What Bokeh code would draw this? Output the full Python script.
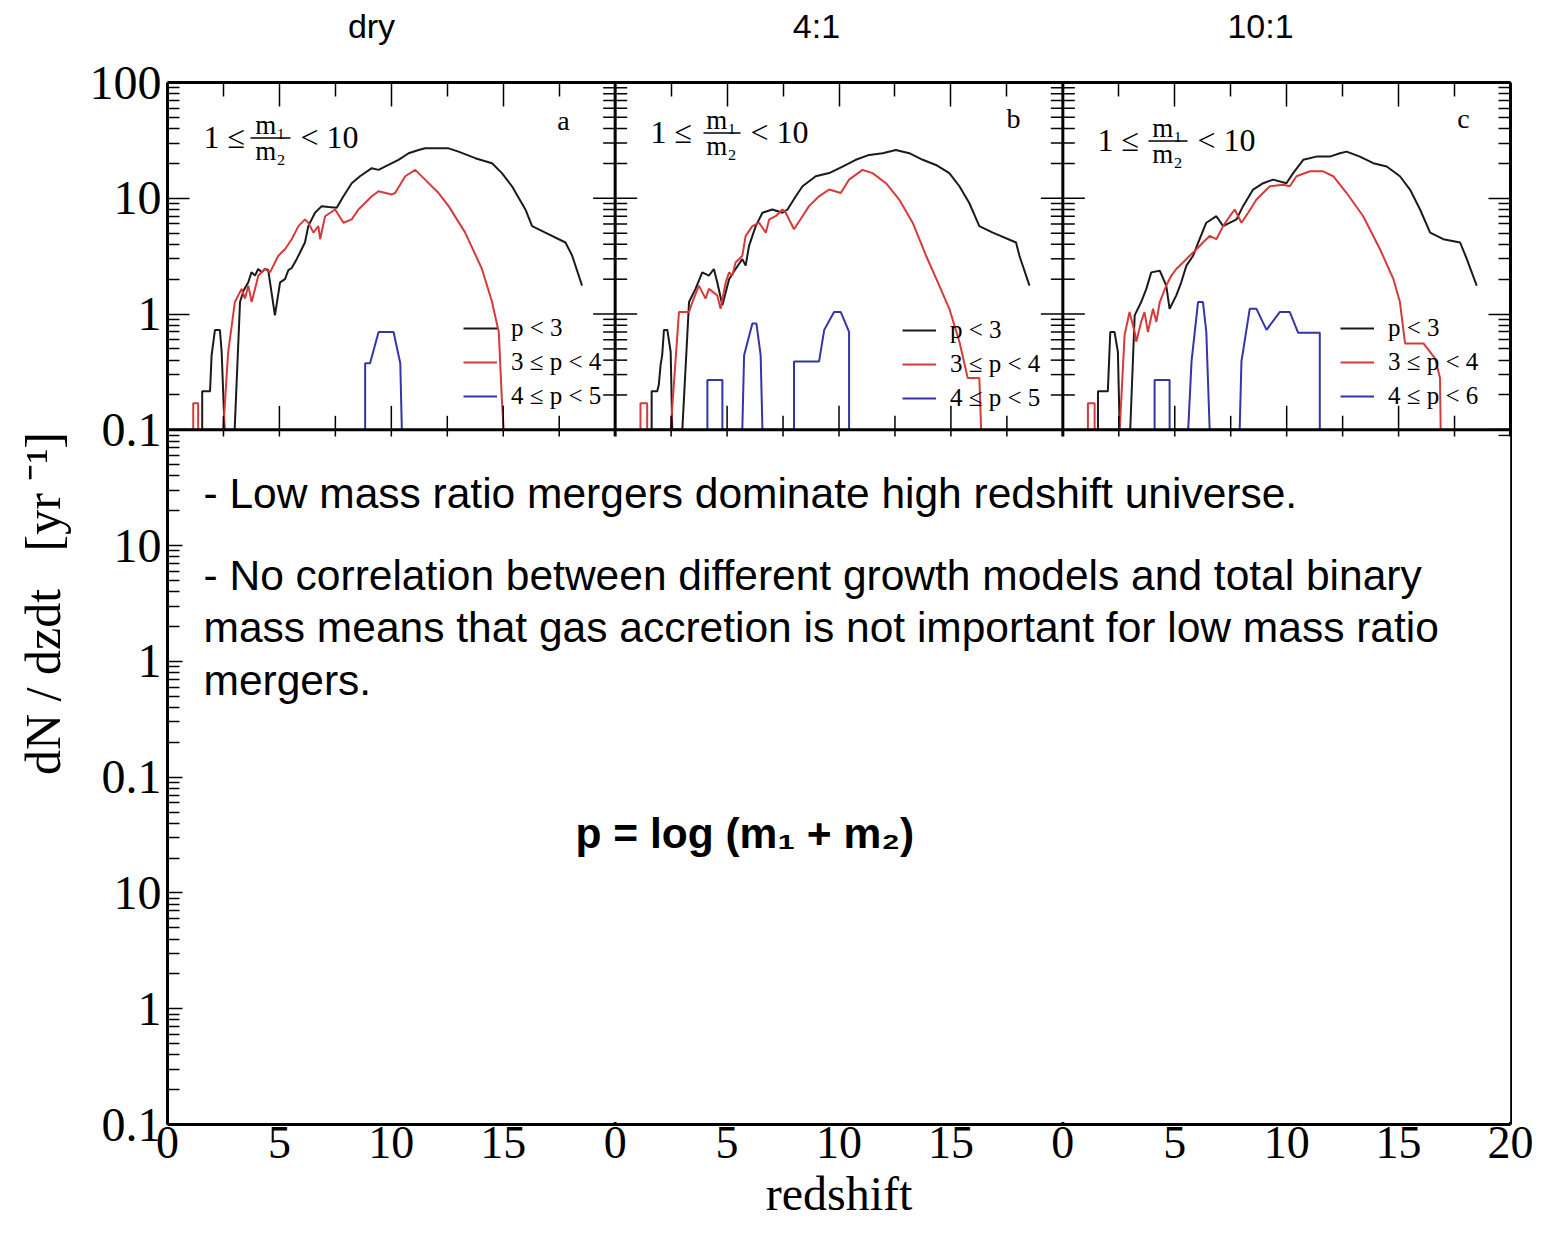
import math
from bokeh.plotting import figure
from bokeh.models import (Range1d, LinearAxis, LogAxis, FixedTicker, Span, BoxAnnotation,
                          Label, Legend, LegendItem)
from bokeh.core.properties import value
from bokeh.embed import file_html
from bokeh.resources import INLINE

# ---------------- data (redshift z, dN/dzdt) ; 0.1 = floor of the panel ----------------
panel_titles = ["dry", "4:1", "10:1"]
panel_letters = ["a", "b", "c"]
x_tick_labels = ["0", "5", "10", "15", "0", "5", "10", "15", "0", "5", "10", "15", "20"]
y_tick_labels = ["0.1", "1", "10", "0.1", "1", "10", "0.1", "1", "10", "100"]
legend_a = ["p < 3", "3 ≤ p < 4", "4 ≤ p < 5"]
legend_b = ["p < 3", "3 ≤ p < 4", "4 ≤ p < 5"]
legend_c = ["p < 3", "3 ≤ p < 4", "4 ≤ p < 6"]

# panel a (dry)
a_black_z = [1.55, 1.55, 1.9, 1.97, 2.12, 2.34, 2.42, 2.55, 3.0, 3.24, 3.4, 3.61, 3.75, 3.91, 4.05, 4.21, 4.35, 4.5,
             4.8, 5.03, 5.25, 5.4, 5.55, 5.77, 5.92, 6.14, 6.29, 6.59, 6.89, 7.2, 7.56, 7.86, 8.23, 8.6, 9.13, 9.43,
             9.87, 10.32, 10.77, 11.22, 11.51, 12.0, 12.56, 13.0, 13.75, 14.5, 14.94, 15.39, 15.99, 16.29, 16.88,
             17.78, 18.08, 18.52]
a_black = [0.1, 0.215, 0.215, 0.44, 0.73, 0.73, 0.47, 0.1, 0.1, 1.27, 1.6, 1.88, 2.3, 2.15, 2.45, 2.3, 2.45, 2.4,
           0.975, 1.88, 2.0, 2.4, 2.5, 2.98, 3.4, 4.15, 5.75, 7.5, 8.55, 8.4, 8.27, 10.4, 13.5, 15.5, 18.2, 17.6,
           19.4, 21.5, 24.5, 26.1, 27.0, 27.0, 27.0, 25.3, 22.2, 20.1, 16.5, 12.7, 8.0, 5.75, 5.05, 4.15, 3.19, 1.76]
a_red_z = [1.15, 1.15, 1.37, 1.37, 2.49, 2.71, 3.01, 3.31, 3.46, 3.61, 3.76, 4.06, 4.35, 4.58, 4.95, 5.25, 5.55,
           5.85, 6.14, 6.29, 6.52, 6.74, 6.82, 7.04, 7.49, 7.86, 8.23, 8.53, 9.13, 9.43, 10.02, 10.17, 10.62, 11.07,
           11.51, 12.11, 12.56, 13.3, 14.05, 14.5, 14.8, 14.94, 15.02]
a_red = [0.1, 0.17, 0.17, 0.1, 0.1, 0.47, 1.27, 1.65, 1.36, 1.76, 1.27, 2.15, 2.45, 2.29, 3.19, 3.63, 4.43, 5.75,
         6.57, 6.15, 5.05, 5.75, 4.43, 7.0, 8.0, 6.15, 6.57, 8.0, 10.4, 11.5, 10.8, 11.1, 15.5, 17.6, 14.5, 11.1,
         8.55, 5.05, 2.45, 1.27, 0.70, 0.18, 0.1]
a_blue_z = [8.83, 8.83, 9.05, 9.43, 10.1, 10.4, 10.47]
a_blue = [0.1, 0.376, 0.376, 0.70, 0.70, 0.376, 0.1]

# panel b (4:1)
b_black_z = [1.63, 1.63, 1.88, 1.95, 2.03, 2.1, 2.18, 2.33, 2.48, 2.55, 3.0, 3.3, 3.59, 3.89, 4.19, 4.41, 4.56,
             4.79, 5.09, 5.38, 5.68, 5.83, 5.98, 6.28, 6.58, 7.02, 7.47, 7.7, 8.07, 8.37, 8.96, 9.56, 10.16, 10.75,
             11.35, 11.95, 12.54, 13.14, 13.74, 14.33, 14.93, 15.38, 15.82, 16.27, 16.87, 17.91, 18.06, 18.51]
b_black = [0.1, 0.215, 0.215, 0.245, 0.364, 0.44, 0.73, 0.73, 0.47, 0.1, 0.1, 1.27, 1.65, 2.29, 2.15, 2.45, 1.88,
           1.19, 2.0, 2.45, 2.98, 2.62, 3.88, 5.75, 7.5, 8.0, 7.5, 8.0, 10.4, 12.7, 15.5, 16.5, 18.8, 21.5, 23.7,
           24.5, 26.1, 24.5, 21.5, 19.4, 16.5, 12.7, 9.1, 5.75, 5.05, 4.15, 3.19, 1.76]
b_red_z = [1.13, 1.13, 1.43, 1.43, 2.48, 2.85, 3.3, 3.45, 3.74, 4.04, 4.19, 4.56, 4.71, 4.94, 5.09, 5.23, 5.38,
           5.68, 5.83, 6.13, 6.43, 6.73, 6.88, 7.17, 7.47, 7.62, 7.99, 8.37, 8.66, 9.11, 9.56, 10.08, 10.45, 11.05,
           11.5, 12.1, 12.69, 13.29, 13.89, 14.48, 14.93, 15.38, 15.75, 16.27, 16.35]
b_red = [0.1, 0.17, 0.17, 0.1, 0.1, 1.04, 1.04, 1.27, 1.76, 1.36, 1.65, 1.45, 1.11, 1.88, 2.29, 2.15, 2.79, 3.19,
         4.73, 5.75, 6.15, 5.05, 6.57, 7.0, 8.0, 7.5, 5.4, 7.0, 8.55, 10.4, 11.9, 11.1, 14.5, 17.6, 16.5, 13.5,
         9.75, 6.15, 3.19, 1.76, 1.11, 0.577, 0.28, 0.28, 0.1]
b_blue_z = [4.12, 4.12, 4.79, 4.79, 5.68, 5.76, 6.13, 6.31, 6.5, 6.58, 7.99, 7.99, 9.11, 9.34, 9.78, 10.08, 10.45,
            10.45]
b_blue = [0.1, 0.27, 0.27, 0.1, 0.1, 0.44, 0.83, 0.83, 0.44, 0.1, 0.1, 0.39, 0.39, 0.73, 1.04, 1.04, 0.70, 0.1]

# panel c (10:1)
c_black_z = [1.57, 1.57, 2.01, 2.12, 2.31, 2.46, 2.54, 3.01, 3.21, 3.5, 3.73, 3.95, 4.33, 4.62, 4.77, 5.07, 5.29,
             5.52, 5.82, 6.11, 6.41, 6.86, 7.16, 7.76, 8.05, 8.5, 8.95, 9.4, 9.99, 10.29, 10.74, 11.33, 11.93, 12.38,
             12.68, 13.27, 13.87, 14.47, 15.06, 15.51, 15.96, 16.41, 17.0, 17.75, 18.05, 18.49]
c_black = [0.1, 0.215, 0.215, 0.70, 0.70, 0.47, 0.1, 0.1, 0.975, 1.27, 1.65, 2.29, 2.37, 1.76, 1.11, 1.45, 1.88,
           2.62, 3.19, 4.43, 6.15, 7.0, 5.75, 6.57, 8.55, 11.9, 13.5, 14.5, 13.5, 16.5, 21.5, 22.9, 22.9, 24.5, 25.3,
           22.9, 20.1, 18.8, 15.5, 11.9, 8.0, 5.05, 4.43, 4.15, 2.98, 1.76]
c_red_z = [1.12, 1.12, 1.42, 1.42, 2.54, 2.76, 2.98, 3.21, 3.28, 3.5, 3.65, 3.8, 4.03, 4.18, 4.33, 4.62, 4.85, 5.07,
           5.37, 5.67, 5.97, 6.26, 6.56, 6.86, 7.16, 7.46, 7.68, 7.98, 8.28, 8.65, 9.25, 9.84, 10.14, 10.44, 11.04,
           11.63, 12.08, 12.68, 13.42, 14.17, 14.77, 15.06, 15.29, 16.11, 16.63, 16.85, 16.88]
c_red = [0.1, 0.17, 0.17, 0.1, 0.1, 0.66, 1.04, 0.70, 0.577, 0.855, 1.04, 0.70, 1.11, 0.855, 1.27, 1.76, 2.15, 2.45,
         2.79, 3.19, 3.63, 4.15, 4.73, 4.43, 5.75, 7.0, 8.0, 6.15, 7.5, 9.75, 12.7, 13.1, 12.7, 15.5, 17.1, 17.1,
         15.5, 11.1, 7.0, 3.63, 2.0, 1.27, 0.557, 0.557, 0.415, 0.28, 0.1]
c_blue_z = [4.1, 4.1, 4.77, 4.77, 5.6, 5.75, 6.04, 6.26, 6.41, 6.56, 7.9, 7.98, 8.35, 8.65, 9.1, 9.69, 10.14, 10.51,
            11.48, 11.48]
c_blue = [0.1, 0.27, 0.27, 0.1, 0.1, 0.39, 1.27, 1.27, 0.70, 0.1, 0.1, 0.39, 1.11, 1.11, 0.73, 1.04, 1.04, 0.69,
          0.69, 0.1]

BLACK, RED, BLUE = "#1a1a1a", "#d63a3a", "#3535a6"
SERIF, SANS = "Liberation Serif", "Liberation Sans"

# ---------------- geometry helpers (annotation placement only) ----------------
W, H = 1543, 1236
X0, X1, Y0, Y1 = 167, 1510, 82, 1124


def xd(px):
    return (px - X0) / (X1 - X0) * 60.0


def yd(py):
    return 10 ** (2 - (py - Y0) / (Y1 - Y0) * 9.0)


p = figure(width=W, height=H, x_range=Range1d(0, 60), y_range=Range1d(1e-7, 100), y_axis_type="log",
           output_backend="svg", toolbar_location=None, title=None,
           min_border_left=X0, min_border_right=W - X1, min_border_top=Y0, min_border_bottom=H - Y1)
p.extra_x_ranges = {"b": Range1d(-20, 40), "c": Range1d(-40, 20)}
p.xgrid.visible = False
p.ygrid.visible = False
p.outline_line_color = None
p.background_fill_color = "white"
p.border_fill_color = "white"

# ---------------- curves ----------------
ra = [p.line(a_black_z, a_black, line_color=BLACK, line_width=2),
      p.line(a_red_z, a_red, line_color=RED, line_width=2),
      p.line(a_blue_z, a_blue, line_color=BLUE, line_width=2)]
rb = [p.line(b_black_z, b_black, line_color=BLACK, line_width=2, x_range_name="b"),
      p.line(b_red_z, b_red, line_color=RED, line_width=2, x_range_name="b"),
      p.line(b_blue_z, b_blue, line_color=BLUE, line_width=2, x_range_name="b")]
rc = [p.line(c_black_z, c_black, line_color=BLACK, line_width=2, x_range_name="c"),
      p.line(c_red_z, c_red, line_color=RED, line_width=2, x_range_name="c"),
      p.line(c_blue_z, c_blue, line_color=BLUE, line_width=2, x_range_name="c")]

# ---------------- axes ----------------
decades = [10.0 ** k for k in range(-7, 3)]
minors = [m * 10.0 ** k for k in range(-7, 2) for m in range(2, 10)]
ax_common = dict(axis_line_width=3, axis_line_color="black", major_tick_line_width=1.5,
                 minor_tick_line_width=1.5, major_tick_line_color="black", minor_tick_line_color="black")

left = p.yaxis[0]
left.ticker = FixedTicker(ticks=decades, minor_ticks=minors)
left.major_label_overrides = dict(zip(decades, y_tick_labels))
left.major_label_text_font = SERIF
left.major_label_text_font_size = "48px"
left.major_label_text_color = "black"
left.major_label_standoff = 6
for k, v in ax_common.items():
    setattr(left, k, v)
left.major_tick_in, left.major_tick_out, left.minor_tick_in, left.minor_tick_out = 22, 0, 12, 0
left.axis_label = "dN / dzdt\u00a0\u00a0\u00a0[yr\u00a0⁻¹]"
left.axis_label_text_font = SERIF
left.axis_label_text_font_style = "normal"
left.axis_label_text_font_size = "50px"
left.axis_label_text_color = "black"
left.axis_label_standoff = 16

# unlabelled mirror axes (right and top)
right = LogAxis(ticker=FixedTicker(ticks=decades, minor_ticks=minors),
                major_label_overrides={d: " " for d in decades},
                major_label_text_font_size="6px", major_label_text_alpha=0, major_label_standoff=0,
                major_tick_in=22, major_tick_out=0, minor_tick_in=12, minor_tick_out=0, **ax_common)
p.add_layout(right, "right")

x_ticks = list(range(0, 61, 5))
bottom = p.xaxis[0]
bottom.ticker = FixedTicker(ticks=x_ticks, minor_ticks=[])
bottom.major_label_overrides = dict(zip(x_ticks, x_tick_labels))
for k, v in ax_common.items():
    setattr(bottom, k, v)
bottom.major_tick_in = bottom.major_tick_out = 0
bottom.minor_tick_in = bottom.minor_tick_out = 0
bottom.major_label_text_font = SERIF
bottom.major_label_text_font_size = "46px"
bottom.major_label_text_color = "black"
bottom.major_label_standoff = 2
bottom.axis_label = "redshift"
bottom.axis_label_text_font = SERIF
bottom.axis_label_text_font_style = "normal"
bottom.axis_label_text_font_size = "48px"
bottom.axis_label_text_color = "black"
bottom.axis_label_standoff = 6

top_major = [5, 10, 15, 25, 30, 35, 45, 50, 55]
top_minor = [2.5 + 5 * i for i in range(12)]
top = LinearAxis(ticker=FixedTicker(ticks=top_major, minor_ticks=top_minor),
                 major_label_overrides={t: " " for t in top_major},
                 major_label_text_font_size="6px", major_label_text_alpha=0, major_label_standoff=0,
                 major_tick_in=24, major_tick_out=0, minor_tick_in=14, minor_tick_out=0, **ax_common)
p.add_layout(top, "above")

# panel titles (dry / 4:1 / 10:1) as an outer, line-less top axis
title_x = [xd(371), xd(816), xd(1260)]
titles_axis = LinearAxis(ticker=FixedTicker(ticks=title_x, minor_ticks=[]),
                         major_label_overrides=dict(zip(title_x, panel_titles)),
                         axis_line_color=None, major_tick_line_color=None, minor_tick_line_color=None,
                         major_label_text_font=SANS, major_label_text_font_size="34px",
                         major_label_text_color="black", major_label_standoff=32)
p.add_layout(titles_axis, "above")

# ---------------- panel separators and their tick marks ----------------
for loc in (20, 40):
    p.add_layout(Span(location=loc, dimension="height", line_color="black", line_width=3))
p.add_layout(Span(location=0.1, dimension="width", line_color="black", line_width=3))

row_major = [1.0, 10.0]
row_minor = [m * 10.0 ** k for k in (-1, 0, 1) for m in range(2, 10)]
for loc in (20, 40):
    p.scatter([loc] * len(row_major), row_major, marker="dash", size=44, line_color="black", line_width=1.5)
    p.scatter([loc] * len(row_minor), row_minor, marker="dash", size=24, line_color="black", line_width=1.5)
p.scatter(top_major, [0.1] * len(top_major), marker="dash", angle=math.pi / 2, size=48,
          line_color="black", line_width=1.5)
p.scatter(top_minor, [0.1] * len(top_minor), marker="dash", angle=math.pi / 2, size=28,
          line_color="black", line_width=1.5)

# ---------------- white text box covering the lower rows ----------------
p.add_layout(BoxAnnotation(left=xd(182), right=xd(1509.8), top=yd(436), bottom=yd(1121.5),
                           fill_color="white", fill_alpha=1.0, line_color=None, line_alpha=0))


def lab(px, py, text, font=SERIF, size=32, align="left", baseline="middle", style="normal"):
    p.add_layout(Label(x=xd(px), y=yd(py), text=text, text_font=font, text_font_size=f"{size}px",
                       text_align=align, text_baseline=baseline, text_font_style=style,
                       text_color="black"))


# body text
lab(203, 493, "- Low mass ratio mergers dominate high redshift universe.", SANS, 42.5, baseline="alphabetic")
lab(203, 575, "- No correlation between different growth models and total binary", SANS, 42.5,
    baseline="alphabetic")
lab(203, 627, "mass means that gas accretion is not important for low mass ratio", SANS, 42.5,
    baseline="alphabetic")
lab(203, 680, "mergers.", SANS, 42.5, baseline="alphabetic")
lab(575, 833, "p = log (m₁ + m₂)", SANS, 42.5, baseline="alphabetic", style="bold")

# panel letters
for (cx, cy), t in zip(((563, 120), (1013, 118), (1463, 118)), panel_letters):
    lab(cx, cy, t, SERIF, 28, align="center")

# mass-ratio annotation in each panel: 1 <= m1/m2 < 10
for (x1, xm, bl, br, xl, cy) in ((203, 270, 250, 290, 300, 136), (650, 721, 703, 740, 750, 131),
                                 (1097, 1167, 1148, 1187, 1197, 139)):
    lab(x1, cy, "1 ≤", SERIF, 32)
    lab(xm, cy - 12, "m₁", SERIF, 27, align="center")
    lab(xm, cy + 14, "m₂", SERIF, 27, align="center")
    p.add_layout(BoxAnnotation(left=xd(bl), right=xd(br), top=yd(cy + 1.5 - 0.8), bottom=yd(cy + 1.5 + 0.8),
                               fill_color="black", fill_alpha=1.0, line_color=None, line_alpha=0))
    lab(xl, cy, "< 10", SERIF, 32)

# ---------------- legends ----------------
for rends, labels, loc in ((ra, legend_a, (296, 714)), (rb, legend_b, (735, 712)), (rc, legend_c, (1173, 714))):
    leg = Legend(items=[LegendItem(label=value(t), renderers=[r]) for t, r in zip(labels, rends)],
                 location=loc, orientation="vertical", padding=0, margin=0, spacing=6,
                 glyph_width=34, glyph_height=28, label_height=28, label_standoff=14,
                 label_text_font=SERIF, label_text_font_size="25px", label_text_color="black",
                 border_line_color=None, background_fill_alpha=0)
    p.add_layout(leg)

open("out.html", "w").write(file_html(p, INLINE))
